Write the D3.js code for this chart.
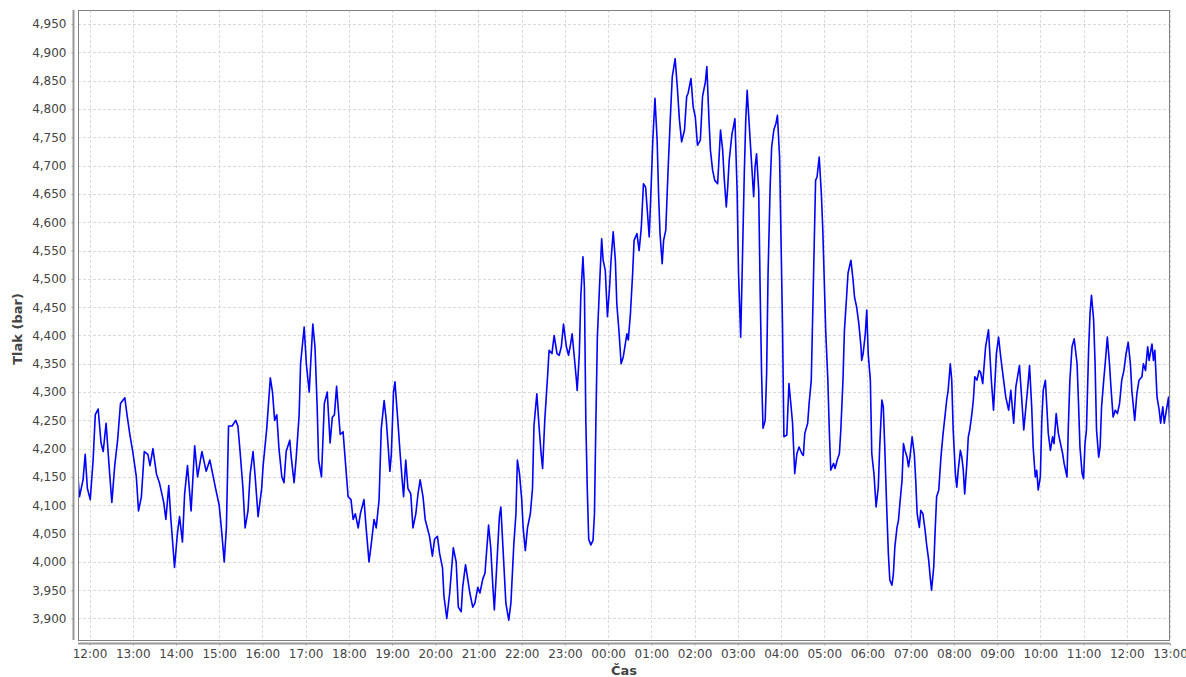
<!DOCTYPE html>
<html>
<head>
<meta charset="utf-8">
<script src="https://cdn.jsdelivr.net/npm/d3@7"></script>
<style>
  html, body { margin: 0; padding: 0; background: #fff; }
  svg { display: block; }
</style>
</head>
<body>
<svg id="chart" width="1186" height="677"></svg>
<script>
// ---- Data (minutes relative to 12:00 of the first day, pressure in bar) ----
const minutes = [
-16,-14,-9,-6,-3,1,5,8,12,16,19,23,28,31,35,39,43,49,52,56,60,65,68,72,76,81,84,88,93,97,103,106,110,113,118,122,125,129,132,136,141,146,150,156,162,167,171,175,180,183,187,190,193,198,203,206,209,213,216,220,223,227,230,234,
239,241,246,251,254,257,260,263,267,270,273,278,280,284,287,291,293,298,301,305,307,310,313,316,318,322,326,330,334,337,340,343,348,352,355,359,363,366,369,373,376,381,384,388,391,395,398,402,405,409,412,417,419,422,424,428,431,434,436,439,442,446,449,453,456,459,463,466,470,472,476,479,483,486,490,
492,496,500,505,509,512,516,518,522,525,528,532,535,539,542,546,549,554,557,560,562,565,569,571,575,578,582,585,589,592,594,597,600,602,605,608,612,615,617,621,624,627,629,632,636,638,642,645,649,652,655,658,662,665,668,670,673,676,677,680,682,685,687,688,689,691,693,696,699,701,703,705,708,711,713,716,719,722,724,727,730,732,735,738,741,
746,748,751,754,756,760,763,766,769,772,774,777,780,782,785,788,790,792,795,797,800,803,806,809,813,816,819,822,826,829,831,835,838,841,844,848,851,855,857,860,862,865,868,872,874,876,879,881,884,886,888,892,894,896,899,901,904,906,909,911,913,916,918,922,924,926,929,931,933,935,938,940,942,945,947,950,953,955,958,960,962,964,968,971,974,976,979,982,985,
989,991,993,997,999,1002,1004,1006,1008,1010,1013,1016,1018,1020,1022,1025,1027,1029,1033,1035,1038,1041,1043,1046,1048,1051,1053,1057,1060,1062,1065,1068,1071,1072,1074,1077,1079,1081,1084,1086,1089,1092,1095,1097,1100,1102,1104,1107,1109,1111,1114,1116,1118,1121,1123,1125,1128,1130,1132,1135,1137,1139,1142,1145,1147,1149,1152,1154,1157,1160,1162,1165,1167,1169,1172,1174,1176,1179,1182,1185,1188,1190,1192,1195,1197,1199,1202,1204,1206,1209,1211,1213,1215,1218,1220,1222,1225,1227,1229,1232,1235,
1237,1240,1244,1248,1252,1255,1259,1262,1265,1269,1272,1276,1279,1283,1286,1291,1294,1297,1300,1303,1305,1308,1310,1313,1315,1317,1320,1322,1324,1327,1329,1331,1334,1337,1339,1342,1345,1348,1351,1353,1357,1359,1361,1364,1367,1371,1373,1375,1378,1380,1382,1384,1387,1389,1391,1394,1396,1398,1401,1403,1405,1408,1410,1413,1416,1418,1421,1424,1427,1430,1433,1436,1439,1442,1445,1447,1451,1454,1457,1461,1463,1466,1469,1471,1475,1477,1479,1482,1485,1487,1490,1492,1495,1498,1500
];
const pressure = [
4.150,4.115,4.145,4.190,4.130,4.110,4.180,4.260,4.270,4.210,4.195,4.245,4.155,4.105,4.170,4.215,4.280,4.290,4.260,4.225,4.195,4.150,4.090,4.115,4.195,4.190,4.170,4.200,4.155,4.140,4.105,4.075,4.135,4.075,3.990,4.050,4.080,4.035,4.120,4.170,4.090,4.205,4.150,4.195,4.160,4.180,4.155,4.130,4.100,4.060,4.000,4.060,4.240,4.240,4.250,4.240,4.195,4.130,4.060,4.090,4.155,4.195,4.150,4.080,
4.130,4.170,4.235,4.325,4.300,4.250,4.260,4.200,4.150,4.140,4.195,4.215,4.185,4.140,4.185,4.260,4.350,4.415,4.350,4.300,4.350,4.420,4.380,4.275,4.180,4.150,4.280,4.300,4.210,4.255,4.260,4.310,4.225,4.230,4.180,4.115,4.110,4.075,4.085,4.060,4.085,4.110,4.060,4.000,4.030,4.075,4.060,4.110,4.235,4.285,4.250,4.160,4.190,4.300,4.318,4.250,4.195,4.145,4.115,4.180,4.130,4.120,4.060,4.085,4.120,4.145,4.115,4.075,4.055,4.045,4.010,4.040,4.045,4.015,3.990,
3.940,3.900,3.945,4.025,4.000,3.920,3.912,3.955,3.995,3.970,3.945,3.920,3.927,3.955,3.945,3.970,3.980,4.065,4.025,3.955,3.915,3.985,4.080,4.097,4.000,3.927,3.897,3.927,4.030,4.085,4.180,4.155,4.110,4.060,4.020,4.060,4.085,4.130,4.240,4.297,4.240,4.190,4.165,4.250,4.330,4.374,4.368,4.400,4.368,4.365,4.380,4.420,4.380,4.365,4.386,4.403,4.362,4.320,4.303,4.368,4.468,4.539,4.486,4.368,4.250,4.130,4.040,4.030,4.038,4.085,4.250,4.397,4.486,4.571,4.533,4.515,4.433,4.486,4.533,4.583,4.533,4.456,4.408,4.350,4.362,
4.403,4.392,4.440,4.510,4.568,4.580,4.550,4.590,4.668,4.662,4.627,4.574,4.674,4.745,4.819,4.745,4.650,4.580,4.527,4.568,4.586,4.686,4.775,4.857,4.889,4.839,4.780,4.742,4.763,4.822,4.828,4.854,4.804,4.786,4.736,4.745,4.822,4.848,4.875,4.780,4.727,4.692,4.674,4.668,4.715,4.763,4.727,4.680,4.627,4.662,4.709,4.757,4.769,4.783,4.657,4.510,4.397,4.510,4.686,4.780,4.833,4.769,4.727,4.645,4.698,4.721,4.657,4.480,4.333,4.236,4.250,4.333,4.510,4.668,4.733,4.763,4.775,4.789,4.715,4.568,4.421,4.221,4.224,4.315,4.274,4.245,4.156,4.191,4.203,
4.191,4.188,4.227,4.245,4.280,4.321,4.439,4.557,4.674,4.680,4.715,4.650,4.586,4.498,4.409,4.321,4.233,4.162,4.174,4.165,4.180,4.191,4.233,4.321,4.409,4.468,4.510,4.533,4.498,4.468,4.450,4.421,4.380,4.356,4.368,4.403,4.445,4.368,4.321,4.191,4.156,4.097,4.132,4.203,4.286,4.274,4.203,4.085,4.015,3.968,3.959,3.979,4.026,4.061,4.073,4.103,4.144,4.209,4.197,4.185,4.168,4.185,4.221,4.191,4.144,4.085,4.061,4.091,4.085,4.056,4.032,4.003,3.974,3.950,3.991,4.056,4.115,4.127,4.185,4.227,4.262,4.286,4.303,4.350,4.321,4.233,4.156,4.132,4.162,4.197,4.185,4.162,4.120,4.174,4.221,4.233,4.262,4.286,4.327,4.321,4.338,
4.335,4.315,4.380,4.410,4.321,4.268,4.368,4.397,4.362,4.321,4.291,4.268,4.303,4.245,4.309,4.347,4.291,4.233,4.274,4.315,4.347,4.274,4.203,4.150,4.162,4.127,4.150,4.250,4.303,4.321,4.274,4.227,4.197,4.221,4.209,4.262,4.227,4.209,4.191,4.174,4.150,4.245,4.321,4.380,4.394,4.350,4.280,4.203,4.156,4.147,4.209,4.233,4.374,4.439,4.471,4.427,4.350,4.233,4.185,4.203,4.274,4.321,4.350,4.397,4.350,4.309,4.256,4.268,4.262,4.280,4.321,4.338,4.368,4.388,4.350,4.303,4.250,4.297,4.321,4.327,4.350,4.338,4.380,4.356,4.385,4.356,4.374,4.291,4.268,4.245,4.274,4.245,4.268,4.291,4.227
];
const yTicks = [3.90,3.95,4.00,4.05,4.10,4.15,4.20,4.25,4.30,4.35,4.40,4.45,4.50,4.55,4.60,4.65,4.70,4.75,4.80,4.85,4.90,4.95];
const yDomain = [3.862, 4.975];
const xLabel = "Čas";
const yLabel = "Tlak (bar)";

// ---- Chart ----
const base = new Date(2020, 0, 1, 12, 0, 0);
const data = minutes.map((m, i) => ({ t: new Date(base.getTime() + m * 60000), v: pressure[i] }));

const svg = d3.select("#chart");
const plot = { left: 78, top: 10, right: 1170, bottom: 640 };

const x = d3.scaleTime()
  .domain(d3.extent(data, d => d.t))
  .range([plot.left, plot.right]);
const y = d3.scaleLinear()
  .domain(yDomain)
  .range([plot.bottom, plot.top]);

const loc = d3.formatLocale({ decimal: ",", thousands: " ", grouping: [3], currency: ["", ""] });
const fmtY = loc.format(".3f");
const fmtX = d3.timeFormat("%H:%M");

const font = "'DejaVu Sans', Verdana, sans-serif";

svg.append("rect")
  .attr("x", plot.left).attr("y", plot.top)
  .attr("width", plot.right - plot.left).attr("height", plot.bottom - plot.top)
  .attr("fill", "#ffffff");

const hourTicks = x.ticks(d3.timeHour.every(1));

// gridlines
const grid = svg.append("g").attr("stroke", "#dadada").attr("stroke-width", 1).attr("stroke-dasharray", "3,2");
grid.selectAll("line.v").data(hourTicks).join("line")
  .attr("x1", d => Math.round(x(d)) + 0.5).attr("x2", d => Math.round(x(d)) + 0.5)
  .attr("y1", plot.top).attr("y2", plot.bottom);
grid.selectAll("line.h").data(yTicks).join("line")
  .attr("y1", d => Math.round(y(d)) + 0.5).attr("y2", d => Math.round(y(d)) + 0.5)
  .attr("x1", plot.left).attr("x2", plot.right);

// line
const clipId = "plotclip";
svg.append("clipPath").attr("id", clipId).append("rect")
  .attr("x", plot.left).attr("y", plot.top)
  .attr("width", plot.right - plot.left).attr("height", plot.bottom - plot.top);

svg.append("path")
  .datum(data)
  .attr("clip-path", `url(#${clipId})`)
  .attr("fill", "none")
  .attr("stroke", "#0000ff")
  .attr("stroke-width", 1.6)
  .attr("stroke-linejoin", "round")
  .attr("d", d3.line().x(d => x(d.t)).y(d => y(d.v)));

// plot border
svg.append("rect")
  .attr("x", plot.left + 0.5).attr("y", plot.top + 0.5)
  .attr("width", plot.right - plot.left - 1).attr("height", plot.bottom - plot.top)
  .attr("fill", "none").attr("stroke", "#808080").attr("stroke-width", 1);

// y axis
const yAxis = svg.append("g")
  .attr("transform", "translate(73.5,0)")
  .call(d3.axisLeft(y).tickValues(yTicks).tickFormat(fmtY).tickSize(2).tickSizeOuter(0).tickPadding(5));
yAxis.select(".domain").attr("stroke", "#999").attr("stroke-width", 2).attr("d", `M0,${plot.top}V${plot.bottom}`);
yAxis.selectAll(".tick line").attr("stroke", "#999");
yAxis.selectAll("text").attr("fill", "#444").style("font-family", font).style("font-size", "12px");

// x axis
const xAxis = svg.append("g")
  .attr("transform", `translate(0,${plot.bottom + 3.5})`)
  .call(d3.axisBottom(x).tickValues(hourTicks).tickFormat(fmtX).tickSize(2).tickSizeOuter(0).tickPadding(4));
xAxis.select(".domain").attr("stroke", "#999").attr("stroke-width", 2).attr("d", `M${plot.left},0H${plot.right}`);
xAxis.selectAll(".tick line").attr("stroke", "#999");
xAxis.selectAll("text").attr("fill", "#444").style("font-family", font).style("font-size", "12px");

// axis labels
svg.append("text")
  .attr("x", (plot.left + plot.right) / 2).attr("y", 675)
  .attr("text-anchor", "middle")
  .attr("fill", "#444")
  .style("font-family", font).style("font-size", "13px").style("font-weight", "bold")
  .text(xLabel);

svg.append("text")
  .attr("transform", `translate(22,329) rotate(-90)`)
  .attr("text-anchor", "middle")
  .attr("fill", "#444")
  .style("font-family", font).style("font-size", "13px").style("font-weight", "bold")
  .text(yLabel);
</script>
</body>
</html>
